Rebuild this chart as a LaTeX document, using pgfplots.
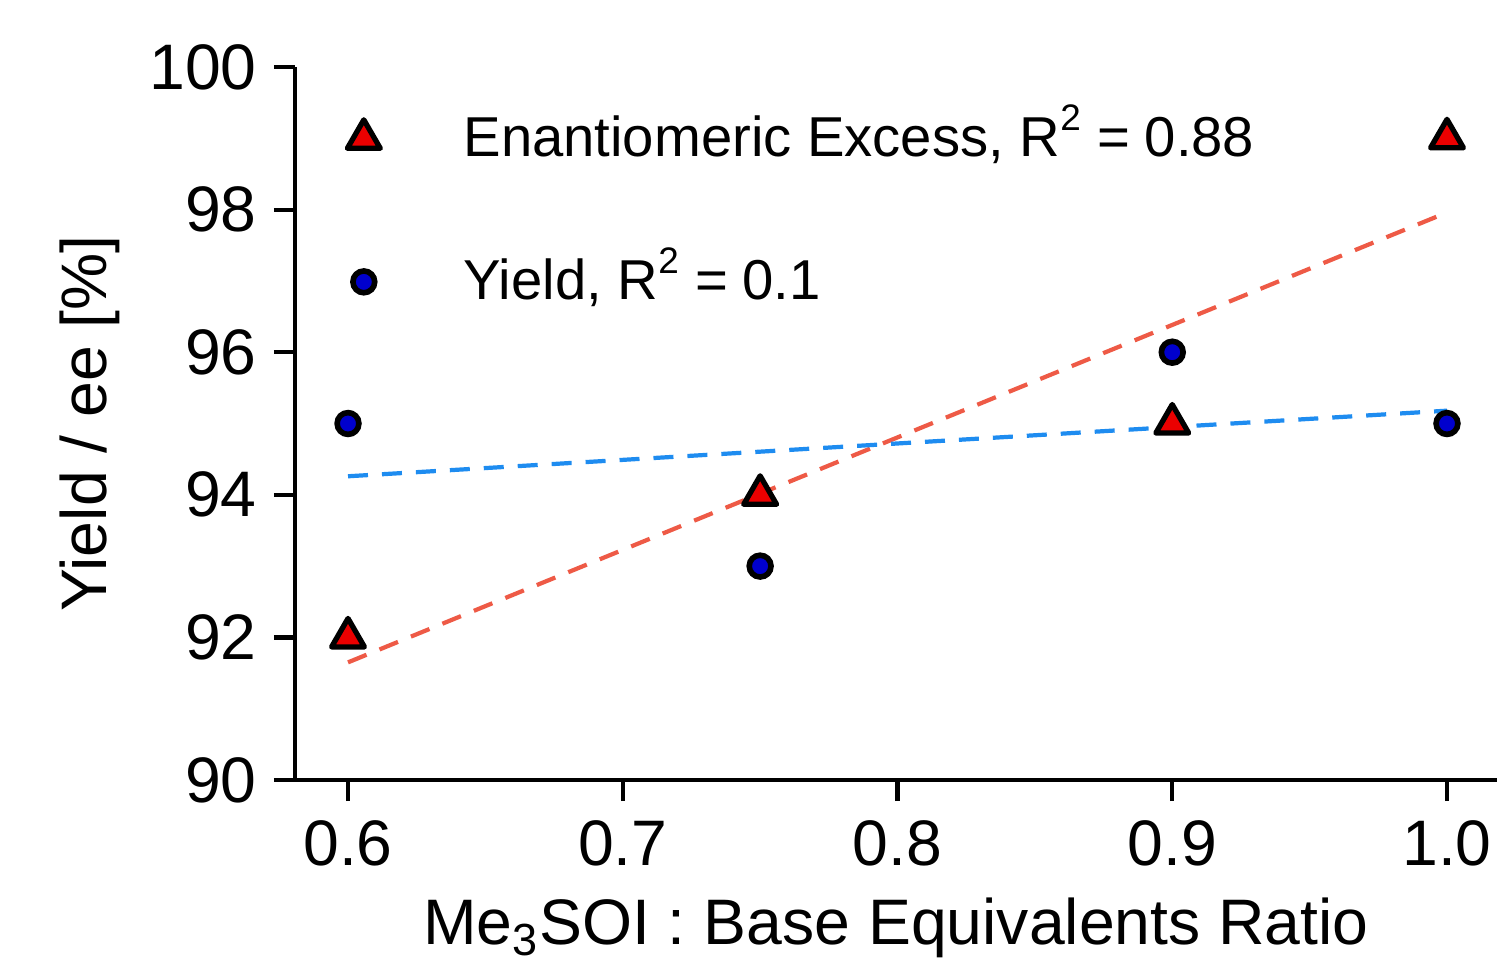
\documentclass[border=0pt]{standalone}
\usepackage{fontspec}
\setmainfont{Liberation Sans}
\usepackage{pgfplots}
\pgfplotsset{compat=1.18}

\definecolor{eered}{RGB}{235,0,0}
\definecolor{ylblue}{RGB}{0,0,205}
\definecolor{fitred}{RGB}{238,90,70}
\definecolor{fitblue}{RGB}{30,140,240}
\newcommand\fs{\fontsize{18.3}{22}\selectfont}
\newcommand\lfs{\fontsize{16}{19}\selectfont}
\newcommand\Rsq{R\smash{\raisebox{0.47em}{\fontsize{10.5}{10}\selectfont 2}}\hspace{0.3em}=\hspace{0.25em}}

\begin{document}
\begin{tikzpicture}
\begin{axis}[
    scale only axis,
    width=12.02cm, height=7.13cm,
    xmin=0.5807, xmax=1.0182,
    ymin=90, ymax=100,
    axis lines=left,
    axis line style={-, line width=1.2pt},
    tick style={line width=1.2pt, black},
    tick align=outside,
    major tick length=0.21cm,
    xtick={0.6,0.7,0.8,0.9,1.0},
    xticklabels={0.6,0.7,0.8,0.9,1.0},
    ytick={90,92,94,96,98,100},
    /pgf/number format/assume math mode=true,
    tick label style={font=\fs},
    yticklabel style={xshift=-0.05cm},
    xticklabel style={yshift=-0.07cm},
    label style={font=\fs},
    xlabel={Me\textsubscript{3}SOI : Base Equivalents Ratio},
    ylabel={Yield / ee [\%]},
    xlabel style={at={(axis description cs:0.5,-0.2314)}, anchor=base},
    ylabel style={at={(axis description cs:-0.1705,0.5)}, anchor=center},
    clip=false,
    legend cell align=left,
    legend style={draw=none, fill=none, font=\lfs,
        at={(axis description cs:0.043,0.799)}, anchor=west,
        inner xsep=0pt, inner ysep=0pt, row sep=0.83cm},
    legend image code/.code={
        \draw[#1] plot coordinates {(0cm,0cm)};
        \path (-0.15cm,0cm) (0.92cm,0cm);
    },
]
% trend lines
\addplot[forget plot, fitred, line width=1.2pt, dash pattern=on 0.2cm off 0.14cm]
    coordinates {(0.6,91.65) (1.0,97.96)};
\addplot[forget plot, fitblue, line width=1.2pt, dash pattern=on 0.2cm off 0.14cm]
    coordinates {(0.6,94.26) (1.0,95.18)};
% enantiomeric excess
\addplot[only marks, mark=triangle*, mark size=5.4pt,
    mark options={fill=eered, draw=black, line width=1.5pt, line join=round}]
    coordinates {(0.6,92) (0.75,94) (0.9,95) (1.0,99)};
% yield
\addplot[only marks, mark=*, mark size=3.1pt,
    mark options={fill=ylblue, draw=black, line width=1.6pt}]
    coordinates {(0.6,95) (0.75,93) (0.9,96) (1.0,95)};
\legend{{Enantiomeric Excess, \Rsq0.88}, {Yield, \Rsq0.1}}
\end{axis}
\pgfresetboundingbox
\path[use as bounding box] (-2.95,-1.80) rectangle (12.02,7.80);
\end{tikzpicture}
\end{document}
